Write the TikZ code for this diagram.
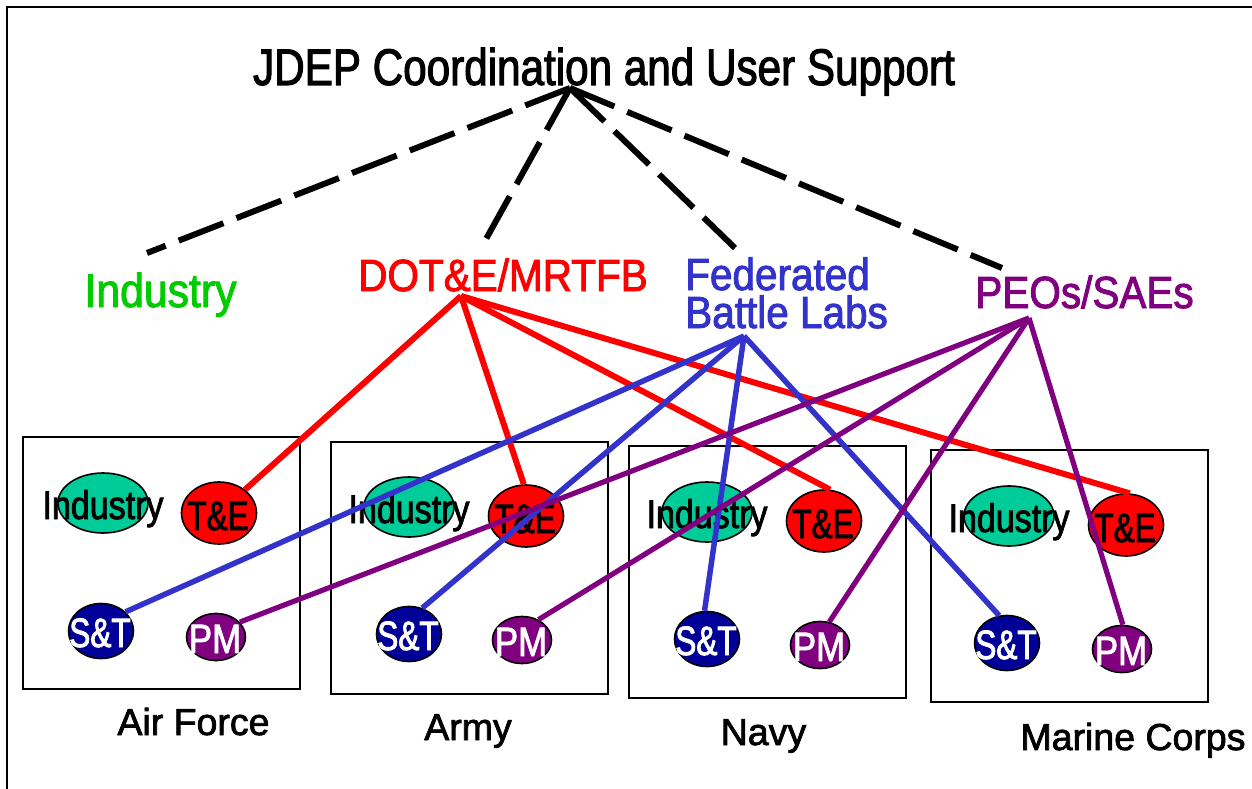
\documentclass[tikz,border=0pt]{standalone}
\usepackage{fontspec}
\setmainfont{Liberation Sans}[FakeBold=2]
\newfontfamily\titlefam{Liberation Sans}[FakeStretch=0.82,FakeBold=2]
\newfontfamily\topfam{Liberation Sans}[FakeStretch=0.9,FakeBold=2]
\newfontfamily\ellfam{Liberation Sans}[FakeStretch=0.85,FakeBold=2]
\newfontfamily\ellnarrow{Liberation Sans}[FakeStretch=0.77,FakeBold=2]
\usetikzlibrary{shapes.geometric}
\definecolor{indfill}{RGB}{0,204,153}
\definecolor{tered}{RGB}{255,0,0}
\definecolor{stblue}{RGB}{0,0,153}
\definecolor{pmpurple}{RGB}{128,0,128}
\definecolor{indgreen}{RGB}{0,204,0}
\definecolor{fedblue}{RGB}{51,51,204}
\begin{document}
\begin{tikzpicture}[x=1pt,y=-1pt,
  orgbox/.style={draw=black,line width=1.8pt,anchor=north west,inner sep=0pt,outer sep=0pt,minimum width=277pt,minimum height=252pt},
  ellbase/.style={ellipse,draw=black,line width=1.6pt,inner sep=0pt},
  indell/.style={ellbase,fill=indfill,minimum width=90pt,minimum height=60pt},
  teell/.style={ellbase,fill=tered,minimum width=75pt,minimum height=62pt},
  stell/.style={ellbase,fill=stblue,minimum width=65pt,minimum height=55pt},
  pmell/.style={ellbase,fill=pmpurple,minimum width=59pt,minimum height=47pt},
  etext/.style={anchor=base,inner sep=0pt},
  indtext/.style={etext,text=black,font=\ellfam\fontsize{40}{40}\selectfont},
  tetext/.style={etext,text=black,font=\ellnarrow\fontsize{41}{41}\selectfont},
  sttext/.style={etext,text=white,font=\ellnarrow\fontsize{41}{41}\selectfont},
  pmtext/.style={etext,text=white,font=\ellfam\fontsize{41}{41}\selectfont},
  toplabel/.style={anchor=base,inner sep=0pt,font=\topfam\fontsize{45}{45}\selectfont},
  botlabel/.style={anchor=base,inner sep=0pt,text=black,font=\fontsize{37.5}{38}\selectfont},
  dashline/.style={draw=black,line width=6pt,dash pattern=on 48pt off 14pt},
  redline/.style={draw=tered,line width=6pt},
  blueline/.style={draw=fedblue,line width=5.5pt},
  purpline/.style={draw=pmpurple,line width=5.2pt}
]
\useasboundingbox (0,0) rectangle (1252,789);
\fill[white] (0,0) rectangle (1252,789);
\draw[line width=2pt] (7,789) -- (7,7) -- (1252,7);

% title and group labels
\node[anchor=base,inner sep=0pt,font=\titlefam\fontsize{51.5}{52}\selectfont] (title) at (604,85) {JDEP Coordination and User Support};
\node[toplabel,text=indgreen,font=\topfam\fontsize{47.5}{48}\selectfont] (indl) at (160.5,307) {Industry};
\node[toplabel,text=tered] (dotl) at (503,291) {DOT\&E/MRTFB};
\node[anchor=base west,inner sep=0pt,text=fedblue,font=\topfam\fontsize{45}{38}\selectfont] (fedl) at (685,290) {\vtop{\hbox{Federated}\hbox{Battle Labs}}};
\node[toplabel,text=pmpurple] (peol) at (1084.5,308) {PEOs/SAEs};

% service boxes
\node[orgbox] (afbox) at (23,437) {};
\node[orgbox] (armybox) at (331,442) {};
\node[orgbox] (navybox) at (629,446) {};
\node[orgbox] (marbox) at (931,450) {};

\node[botlabel] (afl) at (193.5,735) {Air Force};
\node[botlabel] (armyl) at (468,740) {Army};
\node[botlabel] (navyl) at (763.5,745) {Navy};
\node[botlabel] (marl) at (1133,750) {Marine Corps};

% ellipses
\node[indell] (afInd) at (103,503) {};
\node[teell] (afTE) at (219,513) {};
\node[stell] (afST) at (101,631) {};
\node[pmell] (afPM) at (216,637) {};
\node[indell] (armyInd) at (409,507) {};
\node[teell] (armyTE) at (526,516) {};
\node[stell] (armyST) at (409,634) {};
\node[pmell] (armyPM) at (522,640) {};
\node[indell] (navyInd) at (707,512) {};
\node[teell] (navyTE) at (824,521) {};
\node[stell] (navyST) at (707,639) {};
\node[pmell] (navyPM) at (820,645) {};
\node[indell] (marInd) at (1009,516) {};
\node[teell] (marTE) at (1126,525) {};
\node[stell] (marST) at (1007,643) {};
\node[pmell] (marPM) at (1122,649) {};

% ellipse texts
\node[indtext] (afIndT) at (103,519) {Industry};
\node[tetext] (afTET) at (218,530) {T\&E};
\node[sttext] (afSTT) at (100,647) {S\&T};
\node[pmtext] (afPMT) at (215,653) {PM};
\node[indtext] (armyIndT) at (409,523) {Industry};
\node[tetext] (armyTET) at (525,533) {T\&E};
\node[sttext] (armySTT) at (408,650) {S\&T};
\node[pmtext] (armyPMT) at (521,656) {PM};
\node[indtext] (navyIndT) at (707,528) {Industry};
\node[tetext] (navyTET) at (823,538) {T\&E};
\node[sttext] (navySTT) at (706,655) {S\&T};
\node[pmtext] (navyPMT) at (819,661) {PM};
\node[indtext] (marIndT) at (1009,532) {Industry};
\node[tetext] (marTET) at (1125,542) {T\&E};
\node[sttext] (marSTT) at (1006,659) {S\&T};
\node[pmtext] (marPMT) at (1121,665) {PM};

% hubs and free ends
\coordinate (jhub) at (570,88);
\coordinate (dhub) at (461,296);
\coordinate (fhub) at (744,336);
\coordinate (phub) at (1029,318);
\coordinate (dInd) at (147,253);
\coordinate (dDot) at (481,248);
\coordinate (dFed) at (735,248);
\coordinate (dPeo) at (1002,268);

% dashed coordination lines
\draw[dashline] (jhub) -- (dInd);
\draw[dashline] (jhub) -- (dDot);
\draw[dashline] (jhub) -- (dFed);
\draw[dashline] (jhub) -- (dPeo);

% DOT&E/MRTFB to T&E
\draw[redline] (dhub) -- (afTE);
\draw[redline] (dhub) -- (armyTE.94);
\draw[redline] (dhub) -- (navyTE.79);
\draw[redline] (dhub) -- (marTE.83);

% Federated Battle Labs to S&T
\draw[blueline] (fhub) -- (afST.38);
\draw[blueline] (fhub) -- (armyST.63);
\draw[blueline] (fhub) -- (navyST.95);
\draw[blueline] (fhub) -- (marST.106);

% PEOs/SAEs to PM
\draw[purpline] (phub) -- (afPM.32);
\draw[purpline] (phub) -- (armyPM.51);
\draw[purpline] (phub) -- (navyPM.68);
\draw[purpline] (phub) -- (marPM.88);
\end{tikzpicture}
\end{document}
